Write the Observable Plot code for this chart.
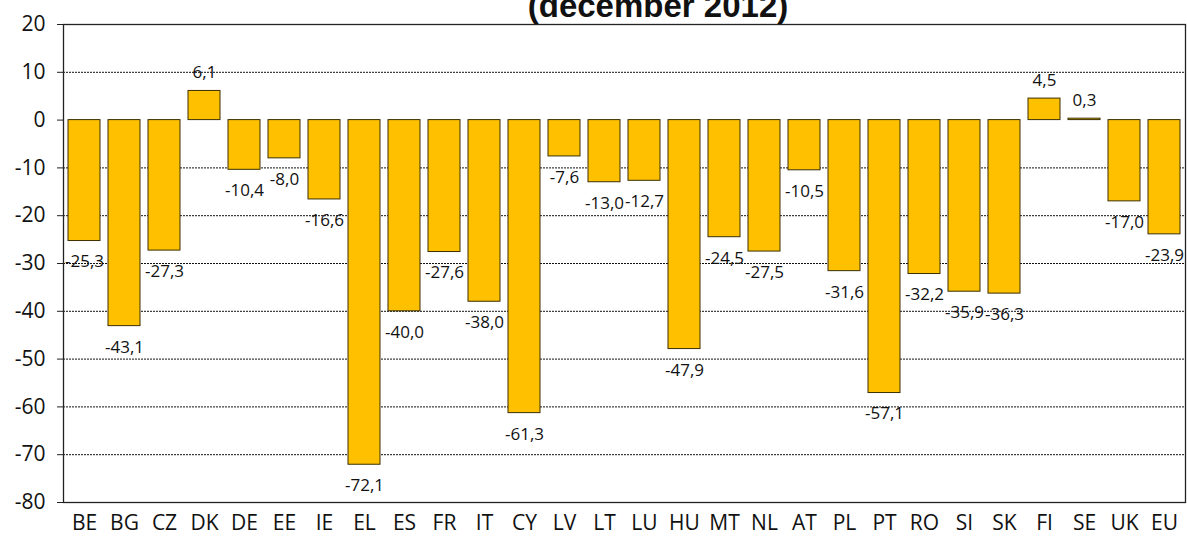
<!DOCTYPE html>
<html>
<head>
<meta charset="utf-8">
<script src="https://cdn.jsdelivr.net/npm/d3@7"></script>
<script src="https://cdn.jsdelivr.net/npm/@observablehq/plot@0.6"></script>
<style>
  html, body { margin: 0; padding: 0; background: #fff; overflow: hidden; }
  #wrap { position: relative; width: 1187px; height: 538px; overflow: hidden; }
  #title { position: absolute; left: 0; top: -11px; width: 1316px; text-align: center;
           font: bold 33px "Liberation Sans", Arial, sans-serif; line-height: 33px; color: #111; white-space: nowrap; }
  #chart { position: absolute; left: 0; top: 0; }
</style>
</head>
<body>
<div id="wrap">
  <div id="chart"></div>
  <div id="title">(december 2012)</div>
</div>
<script>
const countries = ["BE","BG","CZ","DK","DE","EE","IE","EL","ES","FR","IT","CY","LV","LT","LU","HU","MT","NL","AT","PL","PT","RO","SI","SK","FI","SE","UK","EU"];
const values = [-25.3,-43.1,-27.3,6.1,-10.4,-8.0,-16.6,-72.1,-40.0,-27.6,-38.0,-61.3,-7.6,-13.0,-12.7,-47.9,-24.5,-27.5,-10.5,-31.6,-57.1,-32.2,-35.9,-36.3,4.5,0.3,-17.0,-23.9];
const yTicks = [20,10,0,-10,-20,-30,-40,-50,-60,-70,-80];
const gridValues = [10,-10,-20,-30,-40,-50,-60,-70];

const data = countries.map((c, i) => ({country: c, value: values[i]}));
const fmt = v => v.toFixed(1).replace(".", ",");
const neg = data.filter(d => d.value < 0);
const pos = data.filter(d => d.value >= 0);

const chart = Plot.plot({
  width: 1187,
  height: 538,
  marginLeft: 63,
  marginRight: 2,
  marginTop: 24,
  marginBottom: 36,
  style: {background: "#fff", fontFamily: "'Open Sans', sans-serif", color: "#111"},
  x: {domain: countries, paddingInner: 0.2, paddingOuter: 0.1, label: null},
  y: {domain: [-80, 20], label: null},
  marks: [
    Plot.ruleY(gridValues, {stroke: "#111", strokeWidth: 1, strokeDasharray: "2,1"}),
    Plot.barY(data, {x: "country", y: "value", fill: "#FFC000", stroke: "#3a2f00", strokeWidth: 1}),
    Plot.text(neg, {x: "country", y: "value", text: d => fmt(d.value), dy: 21, fontSize: 17, fill: "#111"}),
    Plot.text(pos, {x: "country", y: "value", text: d => fmt(d.value), dy: -18, fontSize: 17, fill: "#111"}),
    Plot.frame({stroke: "#222", strokeWidth: 1.3}),
    Plot.axisY({ticks: yTicks, tickSize: 6, tickPadding: 12, fontSize: 21, tickFormat: d => String(d), stroke: "#222"}),
    Plot.axisX({tickSize: 0, tickPadding: 13, fontSize: 21})
  ]
});
document.getElementById("chart").append(chart);
</script>
</body>
</html>
